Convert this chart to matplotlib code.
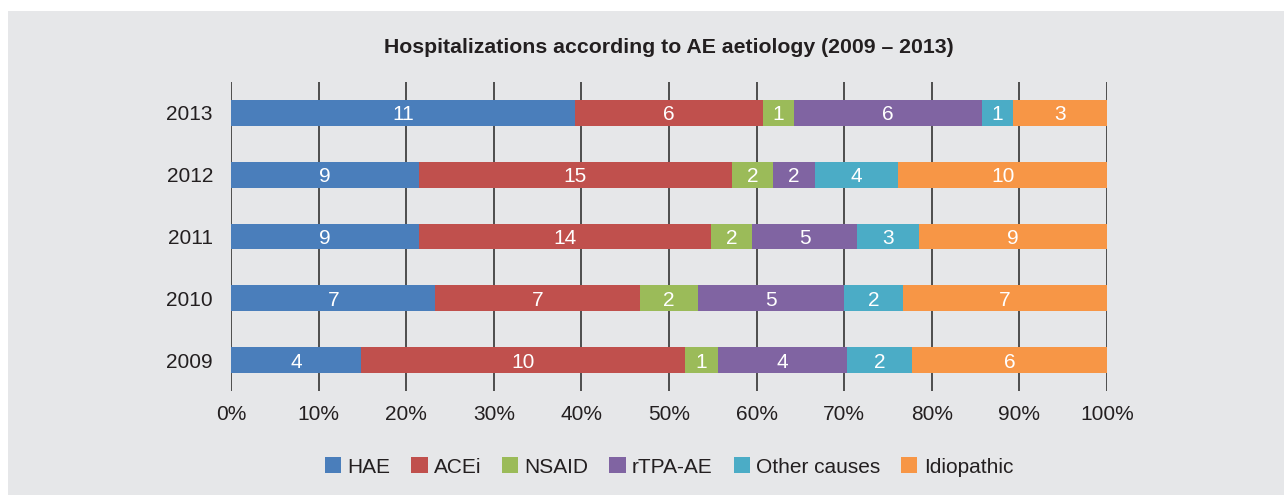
import matplotlib.pyplot as plt
from matplotlib.patches import Rectangle
import numpy as np

plt.rcParams['font.family'] = ['Liberation Sans', 'DejaVu Sans']

# Data: number of hospitalizations per aetiology
years = ['2009', '2010', '2011', '2012', '2013']
categories = ['HAE', 'ACEi', 'NSAID', 'rTPA-AE', 'Other causes', 'Idiopathic']
hae = [4, 7, 9, 9, 11]
acei = [10, 7, 14, 15, 6]
nsaid = [1, 2, 2, 2, 1]
rtpa = [4, 5, 5, 2, 6]
other = [2, 2, 3, 4, 1]
idiopathic = [6, 7, 9, 10, 3]
colors = ['#4a7ebb', '#c0504d', '#9bbb59', '#8064a2', '#4bacc6', '#f79646']

counts = np.array([hae, acei, nsaid, rtpa, other, idiopathic], dtype=float)
shares = counts / counts.sum(axis=0) * 100

fig = plt.figure(figsize=(12.84, 4.95), dpi=100, facecolor='white')
# grey panel behind the chart
fig.patches.append(Rectangle((8 / 1284, 0), 1 - 8 / 1284, 1 - 11 / 495,
                             transform=fig.transFigure, facecolor='#e6e7e9',
                             edgecolor='none', zorder=-10))

ax = fig.add_axes([231 / 1284, 104 / 495, 876 / 1284, 309 / 495])
ax.set_facecolor('none')

y = np.arange(len(years))
left = np.zeros(len(years))
for i, cat in enumerate(categories):
    bars = ax.barh(y, shares[i], left=left, height=0.42, color=colors[i],
                   label=cat, zorder=3)
    for j, b in enumerate(bars):
        ax.text(left[j] + shares[i][j] / 2, y[j], f'{int(counts[i][j])}',
                ha='center', va='center_baseline', color='white',
                fontsize=15, zorder=4)
    left += shares[i]

ax.set_xlim(0, 100)
ax.set_ylim(-0.5, 4.5)
ax.set_xticks(np.arange(0, 101, 10))
ax.set_xticklabels([f'{v}%' for v in range(0, 101, 10)])
ax.set_yticks(y)
ax.set_yticklabels(years)
ax.tick_params(axis='both', length=0, labelsize=15, colors='#231f20')
ax.tick_params(axis='x', pad=10)
ax.tick_params(axis='y', pad=13)
for v in range(0, 101, 10):
    ax.axvline(v, color='#4d4d4d', linewidth=1.4, zorder=1)
for s in ax.spines.values():
    s.set_visible(False)

ax.set_title('Hospitalizations according to AE aetiology (2009 \u2013 2013)',
             fontsize=15.3, fontweight='bold', color='#231f20', pad=21)

handles, labels = ax.get_legend_handles_labels()
fig.legend(handles, labels, loc='center', bbox_to_anchor=(669 / 1284, 28 / 495),
           ncol=6, frameon=False, fontsize=15, handlelength=0.78,
           handleheight=0.78, handletextpad=0.3, columnspacing=1.0,
           labelcolor='#231f20')

fig.savefig('out.png', dpi=100, facecolor=fig.get_facecolor())
